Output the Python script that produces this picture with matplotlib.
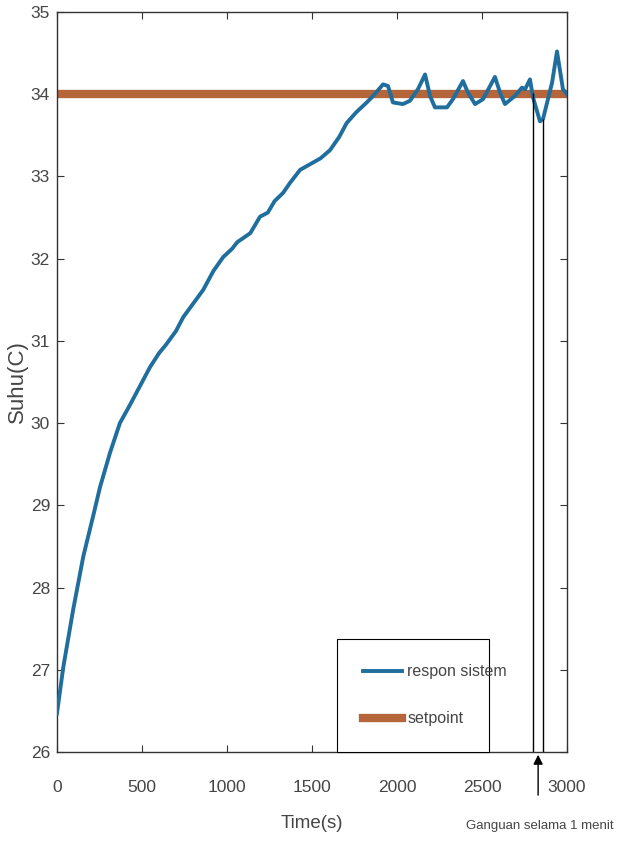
import matplotlib
matplotlib.use('Agg')
import matplotlib.pyplot as plt

# respon sistem (suhu vs waktu)
time_s = [0, 37, 96, 155, 214, 253, 312, 370, 429, 506, 547, 600, 640, 700, 743, 800, 860,
          920, 978, 1030, 1060, 1137, 1194, 1240, 1280, 1330, 1370, 1430, 1490, 1550, 1606,
          1660, 1704, 1760, 1822, 1860, 1918, 1947, 1976, 2035, 2076, 2123, 2165, 2194, 2223,
          2294, 2329, 2388, 2417, 2459, 2506, 2576, 2606, 2635, 2694, 2735, 2753, 2782, 2800,
          2841, 2859, 2912, 2941, 2976, 3000]
suhu = [26.47, 27.03, 27.74, 28.38, 28.88, 29.22, 29.64, 30.0, 30.22, 30.52, 30.68, 30.85, 30.95,
        31.12, 31.29, 31.45, 31.62, 31.85, 32.02, 32.12, 32.2, 32.31, 32.51, 32.56, 32.7, 32.8,
        32.92, 33.08, 33.15, 33.22, 33.32, 33.48, 33.65, 33.78, 33.9, 33.98, 34.12, 34.1, 33.9,
        33.88, 33.92, 34.06, 34.24, 33.98, 33.84, 33.84, 33.94, 34.16, 34.02, 33.88, 33.94,
        34.21, 34.02, 33.88, 33.98, 34.08, 34.06, 34.18, 33.96, 33.67, 33.7, 34.14, 34.52,
        34.06, 34.0]
setpoint = 34

# gangguan 1 menit
gangguan_t = [2800, 2860]
gangguan_top = [34.02, 33.7]

FONT = ['Liberation Sans', 'DejaVu Sans']
TXT = '#454545'

fig = plt.figure(figsize=(6.24, 8.5), dpi=100)
ax = fig.add_axes([0.0913, 0.1153, 0.8174, 0.8706])

ax.plot(time_s, suhu, color='#1f6e9e', lw=2.8, label='respon sistem', zorder=3)
ax.axhline(setpoint, color='#b5653a', lw=6.0, label='setpoint', zorder=2)
ax.vlines(gangguan_t, 26, gangguan_top, color='black', lw=1.0, zorder=4)

ax.set_xlim(0, 3000)
ax.set_ylim(26, 35)
ax.set_xticks(range(0, 3001, 500))
ax.set_yticks(range(26, 36))
ax.tick_params(direction='in', top=True, right=True, length=5, width=0.8, colors='#333333',
               labelcolor=TXT)
ax.tick_params(axis='x', pad=20)
ax.tick_params(axis='y', pad=5)
for lab in ax.get_xticklabels() + ax.get_yticklabels():
    lab.set_fontfamily(FONT)
    lab.set_fontsize(12.5)
for s in ax.spines.values():
    s.set_color('#333333')
    s.set_linewidth(1.0)

ax.set_xlabel('Time(s)', family=FONT, fontsize=13.5, color=TXT)
ax.xaxis.set_label_coords(0.5, -0.085)
ax.set_ylabel('Suhu(C)', family=FONT, fontsize=16, color=TXT)
ax.yaxis.set_label_coords(-0.057, 0.5)

leg = ax.legend(loc='lower left', bbox_to_anchor=(0.549, 0.0, 0.298, 0.152), mode='expand',
                borderaxespad=0, fancybox=False, framealpha=1, edgecolor='black',
                prop={'family': FONT, 'size': 11.5}, handlelength=2.5, handletextpad=0.3,
                labelspacing=2.0, borderpad=1.6)
leg.get_frame().set_linewidth(0.8)
for t in leg.get_texts():
    t.set_color(TXT)

ax.annotate('', xy=(2830, 26), xycoords='data', xytext=(2830, -0.062),
            textcoords=('data', 'axes fraction'),
            arrowprops=dict(arrowstyle='-|>', color='black', lw=1.0, mutation_scale=14),
            annotation_clip=False)
ax.text(0.947, -0.100, 'Ganguan selama 1 menit', transform=ax.transAxes, ha='center',
        va='center', family=FONT, fontsize=9.5, color=TXT)

fig.savefig('out.png', dpi=100)
